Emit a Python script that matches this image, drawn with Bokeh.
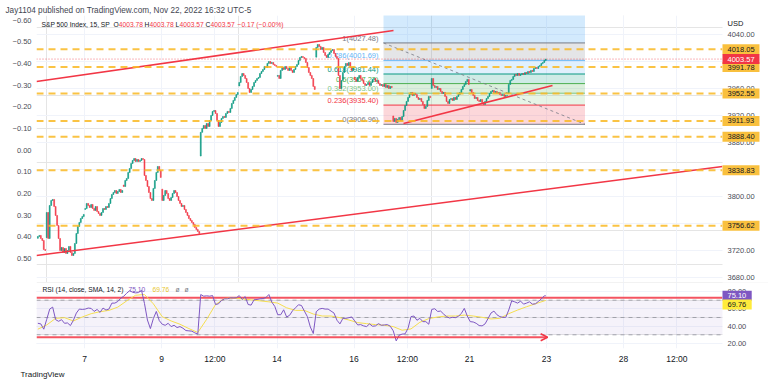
from bokeh.plotting import figure
from bokeh.models import (Range1d, LinearAxis, FixedTicker, Label, ColumnDataSource, Span,
                          Arrow, OpenHead, Grid, BoxAnnotation, CustomJSTickFormatter, Title)
from bokeh.layouts import column
from bokeh.embed import file_html
from bokeh.resources import INLINE
from bokeh.core.properties import value

FONT = "Liberation Sans"
UP, DOWN, RED = "#089981", "#F23645", "#F23645"
BARS = 26  # 15-minute bars per regular session

# ---------------- values ----------------
# x axis = trading-session index (Nov 4 = 0, Nov 7 = 1, ... Nov 22 = 12), weekends collapsed
session_day = [-1, 0, 1, 2, 3, 4, 5, 6, 7, 8, 9, 10, 11, 12]
session_first_bar = [20, 0, 0, 0, 0, 0, 0, 0, 0, 0, 0, 0, 0, 0]
session_open = [3738.0, 3739.0, 3780.7, 3817.0, 3810.9, 3859.9, 3963.7,
                3978.0, 4006.4, 3976.8, 3919.3, 3960.0, 3956.2, 3953.0]

nov03 = [3740.8, 3742.3, 3737.8, 3734.8, 3721.5, 3720.0]
nov04 = [3776.3, 3737.8, 3786.7, 3794.1, 3795.6, 3785.2, 3771.9, 3757.1, 3737.8, 3720.0,
         3724.5, 3717.1, 3723.0, 3715.6, 3720.0, 3726.0, 3717.1, 3712.6, 3715.6, 3730.4,
         3745.2, 3755.6, 3761.5, 3767.4, 3770.4, 3773.4]
nov07 = [3782.2, 3789.7, 3786.7, 3783.7, 3788.2, 3782.2, 3779.3, 3785.2, 3777.8, 3774.8,
         3771.9, 3776.3, 3782.2, 3780.8, 3785.2, 3783.7, 3789.7, 3797.0, 3803.0, 3805.9,
         3808.9, 3804.5, 3807.4, 3810.4, 3805.9, 3808.9]
nov08 = [3814.8, 3823.7, 3826.7, 3835.6, 3841.5, 3848.9, 3853.4, 3856.3, 3851.9, 3854.8,
         3851.9, 3853.4, 3856.3, 3854.8, 3831.1, 3823.7, 3814.8, 3805.9, 3797.0, 3794.1,
         3811.9, 3823.7, 3835.6, 3844.5, 3838.6, 3828.2]
nov09 = [3794.1, 3801.5, 3808.9, 3804.5, 3797.0, 3794.1, 3798.5, 3804.5, 3808.9, 3805.9,
         3800.0, 3794.1, 3789.7, 3785.2, 3786.7, 3780.8, 3776.3, 3771.9, 3767.4, 3764.5,
         3761.5, 3758.6, 3754.1, 3751.2, 3748.2, 3745.2]
nov10 = [3895.0, 3900.8, 3905.2, 3900.8, 3908.2, 3903.7, 3912.6, 3920.0, 3926.0, 3927.4,
         3923.0, 3912.6, 3903.7, 3909.7, 3915.6, 3918.5, 3917.1, 3923.0, 3926.0, 3924.5,
         3930.4, 3937.8, 3942.3, 3946.7, 3951.1, 3954.1]
nov11 = [3968.9, 3977.8, 3982.2, 3979.3, 3974.8, 3968.9, 3960.0, 3954.1, 3958.5, 3963.0,
         3968.9, 3971.9, 3974.8, 3976.3, 3982.2, 3985.2, 3988.2, 3992.6, 3991.1, 3997.1,
         4000.0, 3997.1, 3998.5, 3995.6, 3994.1, 3992.6]
nov14 = [3979.3, 3974.8, 3986.7, 3991.1, 3988.2, 3992.6, 3989.6, 3986.7, 3991.1, 3986.7,
         3983.7, 3988.2, 3992.6, 3995.6, 4001.5, 4005.9, 4007.4, 4005.9, 4004.5, 3998.5,
         3991.1, 3983.7, 3979.3, 3974.8, 3963.0, 3958.5]
nov15 = [4020.8, 4025.2, 4022.3, 4017.8, 4020.8, 4013.4, 4008.9, 4005.9, 4010.4, 4013.4,
         4016.3, 4017.8, 4011.9, 4007.4, 4004.5, 3979.3, 3960.0, 3971.9, 3983.7, 3992.6,
         3997.1, 3994.1, 3998.5, 3991.1, 3986.7, 3991.1]
nov16 = [3973.4, 3970.4, 3976.3, 3979.3, 3974.8, 3971.9, 3967.4, 3964.5, 3965.9, 3968.9,
         3964.5, 3968.9, 3973.4, 3974.8, 3970.4, 3971.9, 3967.4, 3964.5, 3965.9, 3963.0,
         3965.9, 3961.5, 3964.5, 3960.0, 3963.0, 3961.5]
nov17 = [3911.1, 3915.6, 3909.7, 3914.1, 3917.1, 3912.6, 3918.5, 3927.4, 3934.8, 3940.8,
         3946.7, 3951.1, 3954.1, 3949.7, 3952.6, 3951.1, 3946.7, 3943.7, 3945.2, 3940.8,
         3936.3, 3930.4, 3933.4, 3942.3, 3948.2, 3946.7]
nov18 = [3974.8, 3964.5, 3961.5, 3963.0, 3958.5, 3960.0, 3955.6, 3952.6, 3954.1, 3948.2,
         3940.8, 3937.8, 3943.7, 3945.2, 3942.3, 3946.7, 3943.7, 3948.2, 3951.1, 3954.1,
         3958.5, 3963.0, 3965.9, 3970.4, 3973.4, 3965.9]
nov21 = [3958.5, 3954.1, 3949.7, 3945.2, 3946.7, 3942.3, 3940.8, 3943.7, 3939.3, 3936.3,
         3940.8, 3945.2, 3948.2, 3952.6, 3955.6, 3957.1, 3954.1, 3955.6, 3952.6, 3954.1,
         3951.1, 3949.7, 3951.1, 3948.2, 3949.7, 3949.7]
nov22 = [3965.9, 3971.9, 3973.4, 3977.8, 3980.8, 3979.3, 3982.2, 3979.3, 3980.8, 3982.2,
         3980.8, 3983.7, 3982.2, 3985.2, 3983.7, 3986.7, 3985.2, 3989.6, 3991.1, 3989.6,
         3992.6, 3994.1, 3997.1, 3998.5, 4001.5, 4003.57]
session_closes = [nov03, nov04, nov07, nov08, nov09, nov10, nov11,
                  nov14, nov15, nov16, nov17, nov18, nov21, nov22]

time_ticks = [1, 3, 4.3846, 6, 8, 9.3846, 11, 13, 15, 16.3846]
time_labels = ["7", "9", "12:00", "14", "16", "12:00", "21", "23", "28", "12:00"]
price_ticks = [3680, 3720, 3760, 3800, 3840, 3880, 3920, 3960, 4000, 4040]
pct_ticks = [-0.6, -0.5, -0.4, -0.3, -0.2, -0.1, 0.0, 0.1, 0.2, 0.3, 0.4, 0.5]
rsi_ticks = [20, 40, 60, 80]

key_levels = [4018.05, 3991.78, 3952.55, 3911.93, 3888.40, 3838.83, 3756.62]
last_price = 4003.57

fib_x = [8.766, 14.0]
fib_ratios = ["1", "0.786", "0.618", "0.5", "0.382", "0.236", "0"]
fib_prices = [4027.48, 4001.69, 3981.44, 3967.22, 3953.00, 3935.40, 3906.96]
fib_ext = 4101.96
fib_colors = ["#787B86", "#64B5F6", "#089981", "#4CAF50", "#81C784", "#F23645", "#787B86"]
fib_zone_colors = ["#2196F3", "#787B86", "#64B5F6", "#089981", "#4CAF50", "#81C784", "#F23645"]

upper_channel_x, upper_channel_y = [-0.2468, 9.026], [3970.4, 4045.9]
lower_channel_x, lower_channel_y = [-0.2468, 17.571], [3712.6, 3844.4]
support_x, support_y = [9.286, 13.156], [3908.1, 3964.4]

# RSI(14) read every 2nd bar (plus last bar), its SMA(14) read every 6th bar (plus last bar)
rsi_vals = [43.3, 42.6, 36.5, 47.9, 59.7, 62.0, 47.5, 45.6, 47.5, 43.3,
            43.7, 40.7, 46.8, 55.1, 59.7, 59.3, 59.7, 60.9, 60.5, 57.0,
            59.3, 55.9, 60.9, 58.6, 59.7, 66.6, 66.6, 68.5, 72.3, 74.6,
            78.0, 81.0, 79.1, 78.4, 78.8, 81.4, 66.2, 47.1, 37.2, 48.7,
            57.0, 46.4, 42.2, 41.0, 43.3, 39.5, 41.0, 38.4, 39.5, 37.6,
            34.9, 34.6, 34.2, 32.3, 30.8, 76.5, 74.6, 75.0, 74.6, 75.3,
            65.0, 65.8, 69.6, 71.5, 71.5, 72.7, 72.7, 72.7, 75.3, 70.8,
            74.2, 65.0, 64.3, 70.4, 70.8, 71.5, 71.9, 73.0, 76.5, 67.7,
            62.8, 53.2, 53.2, 58.9, 50.6, 52.5,
            57.8, 61.2, 64.7, 63.9, 57.4, 51.0, 39.1, 31.5, 56.7, 59.7,
            60.5, 59.7, 59.7, 57.4, 55.1, 46.8, 42.6, 49.0, 49.0, 49.8,
            50.6, 46.0, 41.4, 41.8, 40.3, 39.5, 42.6, 39.9, 40.3, 42.9,
            41.0, 41.4, 41.8, 39.9, 34.6, 23.0, 29.6, 30.8, 31.1, 37.6,
            51.0, 51.7, 46.8, 49.0, 45.2, 45.2, 42.2, 59.3, 60.1, 57.0,
            57.4, 54.0, 51.0, 49.4, 50.2, 49.8, 51.3, 54.8, 60.5, 51.7,
            45.2, 44.8, 43.3, 40.7, 40.3, 42.6, 48.7, 55.1, 57.4, 53.2,
            51.0, 50.2, 50.2, 58.6, 69.2, 68.1, 66.6, 68.9, 65.4, 66.6,
            68.1, 65.4, 65.8, 68.5, 71.5, 75.0, 75.10]
sma_vals = [36.5, 41.4, 49.0, 49.8, 46.0, 50.6, 54.4, 56.7, 58.2, 62.0,
            69.2, 75.7, 76.5, 65.8, 50.9, 46.0, 42.2, 37.2, 32.7, 47.9,
            65.0, 71.9, 72.7, 71.5, 70.4, 69.2, 68.1, 66.6, 61.2, 58.2,
            58.2, 54.0, 51.7, 51.7, 49.8, 47.1, 44.1, 42.9, 41.8, 41.0,
            39.5, 35.3, 36.8, 44.5, 48.7, 50.6, 51.7, 51.7, 52.8, 51.7,
            50.2, 48.3, 49.0, 54.4, 58.6, 62.4, 65.8, 69.2, 69.76]
rsi_upper_x, rsi_upper_y = [-0.2468, 17.571], [72.8, 72.8]
rsi_arrow_x, rsi_arrow_y = [-0.2468, 13.03], [27.2, 27.2]
rsi_last, sma_last = 75.10, 69.76

# ---------------- layout constants (session units) ----------------
X_LEFT, X_PANE_END, X_RIGHT = -0.2468, 17.571, 18.766   # plot left, price-scale start, canvas right
X_SCALE_TXT, X_BOX_END, X_RSI_BOX_END = 17.701, 18.532, 18.33

# ---------------- build bars ----------------
bar_x, bar_open, bar_close = [], [], []
for d, k0, o, closes in zip(session_day, session_first_bar, session_open, session_closes):
    prev = o
    for k, c in enumerate(closes):
        bar_x.append(d + (k0 + k + 0.5) / BARS)
        bar_open.append(prev)
        bar_close.append(c)
        prev = c
src = ColumnDataSource(dict(
    x=bar_x,
    top=[max(o, c) for o, c in zip(bar_open, bar_close)],
    bottom=[min(o, c) for o, c in zip(bar_open, bar_close)],
    color=[UP if c >= o else DOWN for o, c in zip(bar_open, bar_close)],
))
rsi_x = bar_x[::2] + [bar_x[-1]]
sma_x = bar_x[::6] + [bar_x[-1]]

GRID = "#f0f3fa"
AX_TXT = "#4a4d57"
FRAME_LEFT = 36   # Label x (screen units) are measured from the plot frame's left edge


def style_axis(ax, size="7.5px"):
    ax.axis_line_color = None
    ax.major_tick_line_color = None
    ax.minor_tick_line_color = None
    ax.major_tick_out = 0
    ax.major_tick_in = 0
    ax.minor_tick_out = 0
    ax.minor_tick_in = 0
    ax.major_label_text_font = FONT
    ax.major_label_text_font_size = size
    ax.major_label_text_color = AX_TXT
    ax.major_label_standoff = 5


def txt(fig, px, y, text, color, size="6.7px"):
    fig.add_layout(Label(x=px - FRAME_LEFT, y=y, x_units="screen", text=text, text_font=FONT,
                         text_font_size=size, text_color=color, text_align="left",
                         text_baseline="middle"))


def scale_boxes(fig, ys, texts, bgs, fgs, half, right):
    fig.quad(left=X_PANE_END, right=right, bottom=[y - half for y in ys],
             top=[y + half for y in ys], fill_color=bgs, line_color=None)
    fig.text(x=X_SCALE_TXT, y=ys, text=texts, text_color=fgs, text_align="left",
             text_baseline="middle", text_font=value(FONT), text_font_size=value("7.5px"))


x_range = Range1d(X_LEFT, X_RIGHT)

# ---------------- main price pane ----------------
p = figure(width=768, height=282, x_range=x_range, y_range=Range1d(3672.6, 4068.1),
           x_axis_location=None, y_axis_location=None, toolbar_location=None,
           output_backend="svg", title=None,
           min_border_left=36, min_border_right=0, min_border_top=15, min_border_bottom=0)
p.outline_line_color = None
p.background_fill_color = "white"
p.border_fill_color = "white"
p.add_layout(Title(text="Jay1104 published on TradingView.com, Nov 22, 2022 16:32 UTC-5",
                   align="left", offset=-31, standoff=2, text_font=FONT, text_font_size="8.2px",
                   text_font_style="normal", text_color="#434651"), "above")

p.add_layout(Grid(dimension=1, ticker=FixedTicker(ticks=price_ticks), grid_line_color=GRID))
p.add_layout(Grid(dimension=0, ticker=FixedTicker(ticks=time_ticks), grid_line_color=GRID))

p.extra_y_ranges = {"pct": Range1d(0.611, -0.621)}
pct_axis = LinearAxis(y_range_name="pct", ticker=FixedTicker(ticks=pct_ticks),
                      formatter=CustomJSTickFormatter(
                          code="return (tick < -1e-9 ? '\\u2212' : '') + Math.abs(tick).toFixed(2);"))
style_axis(pct_axis)
p.add_layout(pct_axis, "left")

# fibonacci retracement zones
zone_tops = [fib_ext] + fib_prices[:-1]
p.quad(left=fib_x[0], right=fib_x[1], top=zone_tops, bottom=fib_prices,
       fill_color=fib_zone_colors, fill_alpha=0.2, line_color=None)
p.segment(x0=fib_x[0], x1=fib_x[1], y0=fib_prices, y1=fib_prices,
          line_color=fib_colors, line_width=1)
p.text(x=fib_x[0], y=fib_prices,
       text=[f"{r}({v:.2f})" for r, v in zip(fib_ratios, fib_prices)],
       text_color=fib_colors, text_align="right", text_baseline="bottom",
       x_offset=-5, text_font=value(FONT), text_font_size=value("7.5px"))
p.line(x=fib_x, y=[fib_prices[0], fib_prices[-1]], line_color="#787B86",
       line_dash="3 3", line_width=1, line_alpha=0.8)

# candles
p.vbar(x="x", top="top", bottom="bottom", width=0.6 / BARS, fill_color="color",
       line_color="color", line_width=0.6, source=src)

# trend lines and horizontal levels
p.line(upper_channel_x, upper_channel_y, line_color=RED, line_width=1.5)
p.line(lower_channel_x, lower_channel_y, line_color=RED, line_width=1.5)
p.line(support_x, support_y, line_color=RED, line_width=1.5)
p.segment(x0=X_LEFT, x1=X_PANE_END, y0=key_levels, y1=key_levels, line_color="#F9B823",
          line_width=2, line_dash="7 5", line_alpha=0.85)
p.segment(x0=X_LEFT, x1=X_PANE_END, y0=last_price, y1=last_price, line_color=RED,
          line_width=1, line_dash="1 2", line_alpha=0.7)

# price scale (right)
p.quad(left=X_PANE_END, right=X_RIGHT, bottom=3600, top=4200, fill_color="white", line_color=None)
p.text(x=X_SCALE_TXT, y=price_ticks, text=[f"{t:.2f}" for t in price_ticks],
       text_color=AX_TXT, text_align="left", text_baseline="middle",
       text_font=value(FONT), text_font_size=value("7.5px"))
p.text(x=X_SCALE_TXT, y=[4056.7], text=["USD"], text_color="#131722", text_align="left",
       text_baseline="middle", text_font=value(FONT), text_font_size=value("7.5px"))
scale_boxes(p, key_levels + [last_price], [f"{v:.2f}" for v in key_levels + [last_price]],
            ["#F9C03E"] * len(key_levels) + [RED], ["#131722"] * len(key_levels) + ["white"],
            7.4, X_BOX_END)

# legend
legend_y = 4054.3
txt(p, 41, legend_y, "S&P 500 Index, 15, SP", "#131722")
for px, t, c in [(113, "O", "#131722"), (118.3, "4003.78", RED), (144, "H", "#131722"),
                 (149, "4003.78", RED), (175, "L", "#131722"), (179, "4003.57", RED),
                 (205, "C", "#131722"), (210, "4003.57", RED),
                 (237, "\u22120.17 (\u22120.00%)", RED)]:
    txt(p, px, legend_y, t, c)

# ---------------- RSI pane ----------------
r = figure(width=768, height=103, x_range=x_range, y_range=Range1d(14.2, 90.4),
           y_axis_location=None, toolbar_location=None, output_backend="svg", title=None,
           min_border_left=36, min_border_right=0, min_border_top=0, min_border_bottom=37)
r.outline_line_color = None
r.background_fill_color = "white"
r.border_fill_color = "white"
r.xaxis.ticker = FixedTicker(ticks=time_ticks)
r.xaxis.formatter = CustomJSTickFormatter(args=dict(tvals=time_ticks, tlabels=time_labels), code="""
for (let i = 0; i < tvals.length; i++) { if (Math.abs(tvals[i] - tick) < 1e-6) { return tlabels[i]; } }
return "";
""")
style_axis(r.xaxis[0], size="8.5px")
r.xaxis.major_label_text_color = "#131722"
r.xgrid.grid_line_color = GRID
r.add_layout(Grid(dimension=1, ticker=FixedTicker(ticks=rsi_ticks), grid_line_color=GRID))
r.add_layout(Title(text="TradingView", align="left", offset=-16, standoff=3, text_font=FONT,
                   text_font_size="8px", text_font_style="normal", text_color="#131722"), "below")

r.add_layout(BoxAnnotation(bottom=30, top=70, fill_color="#7E57C2", fill_alpha=0.08,
                           line_color=None, level="underlay"))
for lv in [70, 50, 30]:
    r.add_layout(Span(location=lv, dimension="width", line_color="#787B86", line_width=1,
                      line_dash="4 4", line_alpha=0.6, level="underlay"))
r.line(rsi_upper_x, rsi_upper_y, line_color=RED, line_width=2, line_alpha=0.85)
r.add_layout(Arrow(x_start=rsi_arrow_x[0], y_start=rsi_arrow_y[0],
                   x_end=rsi_arrow_x[1], y_end=rsi_arrow_y[1],
                   line_color=RED, line_width=2, line_alpha=0.85,
                   end=OpenHead(size=7, line_color=RED, line_width=1.5)))
r.line(sma_x, sma_vals, line_color="#F5DE4F", line_width=1)
r.line(rsi_x, rsi_vals, line_color="#7E57C2", line_width=1)

# RSI scale (right)
r.quad(left=X_PANE_END, right=X_RIGHT, bottom=0, top=100, fill_color="white", line_color=None)
r.text(x=X_SCALE_TXT, y=rsi_ticks, text=[f"{t:.2f}" for t in rsi_ticks],
       text_color=AX_TXT, text_align="left", text_baseline="middle",
       text_font=value(FONT), text_font_size=value("7.5px"))
scale_boxes(r, [rsi_last, 65.0], [f"{rsi_last:.2f}", f"{sma_last:.2f}"],
            ["#7E57C2", "#FFEB3B"], ["white", "#131722"], 5.8, X_RSI_BOX_END)

rsi_leg_y = 82.3
txt(r, 42, rsi_leg_y, "RSI (14, close, SMA, 14, 2)", "#131722")
txt(r, 128, rsi_leg_y, f"{rsi_last:.2f}", "#7E57C2")
txt(r, 152, rsi_leg_y, f"{sma_last:.2f}", "#E8C62E")
txt(r, 175, rsi_leg_y, "\u00f8", "#787B86")
txt(r, 184, rsi_leg_y, "\u00f8", "#787B86")

layout = column(p, r)
open("out.html", "w", encoding="utf-8").write(file_html(layout, INLINE))
